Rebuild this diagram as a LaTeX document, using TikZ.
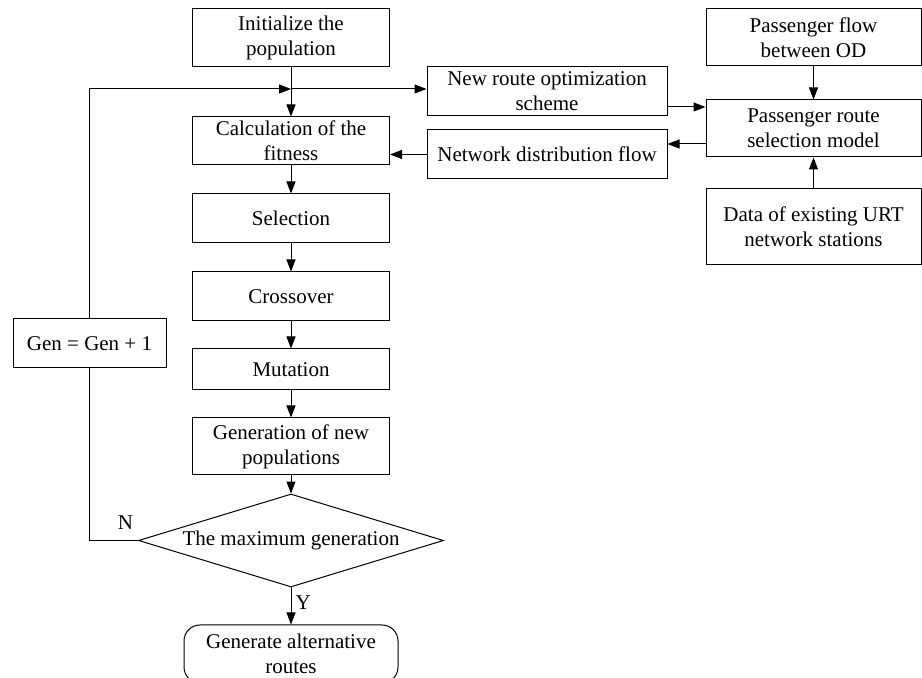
\documentclass[tikz,border=0pt]{standalone}
\usepackage{fontspec}
\setmainfont{Liberation Serif}
\usetikzlibrary{positioning,shapes.geometric,arrows.meta,calc}

\begin{document}
\begin{tikzpicture}[x=0.5pt, y=-0.5pt,
        font = \fontsize{10.5pt}{12.5pt}\selectfont,
        BoxStyle/.style = { rectangle, draw, line width=0.5pt,
          minimum width = 98.5pt, minimum height = 24.5pt,
          inner sep = 0.5pt, align = center },
        DecisionStyle/.style = { diamond, draw, line width=0.5pt,
          aspect = 3.3, inner sep = 1pt,
          minimum width = 152.5pt, minimum height = 46.5pt },
        EndStyle/.style = { BoxStyle, rounded corners = 8pt,
          minimum width = 107pt, minimum height = 29pt },
        EdgeStyle/.style = { line width=0.5pt,
          -{Triangle[length=6pt, width=4.5pt]} }
      ]
      \useasboundingbox (0,0) rectangle (922,678);
      % main loop of the algorithm
      \node[BoxStyle, minimum height = 29pt] (init) at (291,38) {Initialize the\\population};
      \node[BoxStyle, minimum height = 24pt, below = 24.5pt of init] (fit) {Calculation of the\\fitness};
      \node[BoxStyle, below = 14pt of fit] (sel) {Selection};
      \node[BoxStyle, below = 14pt of sel] (cross) {Crossover};
      \node[BoxStyle, minimum height = 20.5pt, below = 13.5pt of cross] (mut) {Mutation};
      \node[BoxStyle, minimum height = 28.5pt, below = 13.5pt of mut] (newpop) {Generation of new\\populations};
      \node[DecisionStyle, below = 9pt of newpop] (maxgen) {The maximum generation};
      \node[EndStyle, below = 18.5pt of maxgen] (routes) {Generate alternative\\routes};
      \node[BoxStyle, minimum width = 76.5pt] (inc) at (89.5,343.5) {Gen = Gen + 1};
      % route choice model
      \node[BoxStyle, minimum width = 120pt] (scheme) at (547,91.5) {New route optimization\\scheme};
      \node[BoxStyle, minimum width = 120pt, below = 6.5pt of scheme] (distflow) {Network distribution flow};
      \node[BoxStyle, minimum width = 107.5pt, minimum height = 28.5pt] (odflow) at (813.5,37.5) {Passenger flow\\between OD};
      \node[BoxStyle, minimum width = 107.5pt, minimum height = 28.5pt, below = 16.5pt of odflow] (choice) {Passenger route\\selection model};
      \node[BoxStyle, minimum width = 107.5pt, minimum height = 38pt, below = 15.5pt of choice] (urt) {Data of existing URT\\network stations};
      \coordinate (join) at (init.south |- 0,89);
      \coordinate (sout) at ($(scheme.east)+(0,15.5)$);
      \coordinate (cout) at ($(choice.west)+(0,15.5)$);

      \draw[EdgeStyle] (init) -- (fit);
      \draw[EdgeStyle] (fit) -- (sel);
      \draw[EdgeStyle] (sel) -- (cross);
      \draw[EdgeStyle] (cross) -- (mut);
      \draw[EdgeStyle] (mut) -- (newpop);
      \draw[EdgeStyle] (newpop) -- (maxgen);
      \draw[EdgeStyle] (maxgen) -- node[pos=0.4, right, inner sep=2pt] {Y} (routes);
      \draw[line width=0.5pt] (maxgen.west) -| node[pos=0.13, above, inner sep=5pt] {N} (inc.south);
      \draw[EdgeStyle] (inc.north) |- (join);
      \draw[EdgeStyle] (join) -- (join -| scheme.west);
      \draw[EdgeStyle] (sout) -- (sout -| choice.west);
      \draw[EdgeStyle] (cout) -- (cout -| distflow.east);
      \draw[EdgeStyle] (distflow.west) -- (distflow.west -| fit.east);
      \draw[EdgeStyle] (odflow) -- (choice);
      \draw[EdgeStyle] (urt) -- (choice);
    \end{tikzpicture}
\end{document}
